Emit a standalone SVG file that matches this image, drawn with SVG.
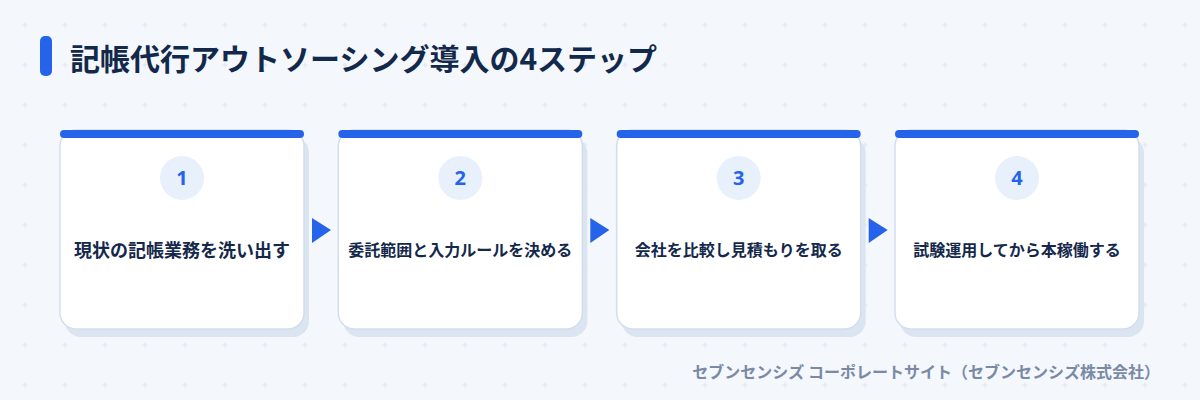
<svg xmlns="http://www.w3.org/2000/svg" width="1200" height="400" viewBox="0 0 1200 400">
  <defs>
    <pattern id="grid" patternUnits="userSpaceOnUse" x="5" y="5" width="40" height="40">
      <path d="M17.5 20 H22.5 M20 17.5 V22.5" stroke="#dde5f0" stroke-width="1"/>
    </pattern>
  </defs>
  <style>
    .title { font-family: "Noto Sans CJK JP", "Noto Sans", sans-serif; font-weight: 700; font-size: 30px; fill: #13294b; }
    .shadow { fill: #dbe4f1; }
    .card { fill: #ffffff; stroke: #d3deed; stroke-width: 1.5; }
    .bar { fill: #2563eb; }
    .badge { fill: #e8f0fc; }
    .num { font-family: "Noto Sans", "Noto Sans CJK JP", sans-serif; font-weight: 700; font-size: 20px; fill: #2563eb; text-anchor: middle; }
    .label { font-family: "Noto Sans CJK JP", "Noto Sans", sans-serif; font-weight: 700; font-size: 16px; fill: #14284b; text-anchor: middle; }
    .big { font-size: 18px; }
    .arrow { fill: #2563eb; }
    .footer { font-family: "Noto Sans CJK JP", "Noto Sans", sans-serif; font-weight: 700; font-size: 16px; fill: #7a8aa5; text-anchor: end; }
  </style>
  <rect width="1200" height="400" fill="#f4f7fc"/>
  <rect width="1200" height="400" fill="url(#grid)"/>

  <g id="title">
    <rect x="40" y="36" width="12" height="40" rx="5" fill="#2563eb"/>
    <text class="title" x="70" y="70">記帳代行アウトソーシング導入の4ステップ</text>
  </g>

  <g id="step1">
    <rect class="shadow" x="65" y="137" width="244" height="200" rx="16"/>
    <rect class="card" x="60" y="130" width="244" height="199" rx="16"/>
    <rect class="bar" x="60" y="130" width="244" height="8" rx="4"/>
    <circle class="badge" cx="182" cy="178" r="22"/>
    <text class="num" x="182" y="185">1</text>
    <text class="label big" x="182" y="257">現状の記帳業務を洗い出す</text>
  </g>

  <g id="step2">
    <rect class="shadow" x="343.33" y="137" width="244" height="200" rx="16"/>
    <rect class="card" x="338.33" y="130" width="244" height="199" rx="16"/>
    <rect class="bar" x="338.33" y="130" width="244" height="8" rx="4"/>
    <circle class="badge" cx="460.33" cy="178" r="22"/>
    <text class="num" x="460.33" y="185">2</text>
    <text class="label" x="460.33" y="256">委託範囲と入力ルールを決める</text>
  </g>

  <g id="step3">
    <rect class="shadow" x="621.67" y="137" width="244" height="200" rx="16"/>
    <rect class="card" x="616.67" y="130" width="244" height="199" rx="16"/>
    <rect class="bar" x="616.67" y="130" width="244" height="8" rx="4"/>
    <circle class="badge" cx="738.67" cy="178" r="22"/>
    <text class="num" x="738.67" y="185">3</text>
    <text class="label" x="738.67" y="256">会社を比較し見積もりを取る</text>
  </g>

  <g id="step4">
    <rect class="shadow" x="900" y="137" width="244" height="200" rx="16"/>
    <rect class="card" x="895" y="130" width="244" height="199" rx="16"/>
    <rect class="bar" x="895" y="130" width="244" height="8" rx="4"/>
    <circle class="badge" cx="1017" cy="178" r="22"/>
    <text class="num" x="1017" y="185">4</text>
    <text class="label" x="1017" y="256">試験運用してから本稼働する</text>
  </g>

  <g id="connectors">
    <polygon class="arrow" points="312,218 331,230 312,243"/>
    <polygon class="arrow" points="590.33,218 609.33,230 590.33,243"/>
    <polygon class="arrow" points="868.67,218 887.67,230 868.67,243"/>
  </g>

  <g id="footer">
    <text class="footer" x="1160" y="378">セブンセンシズ コーポレートサイト（セブンセンシズ株式会社）</text>
  </g>
</svg>
